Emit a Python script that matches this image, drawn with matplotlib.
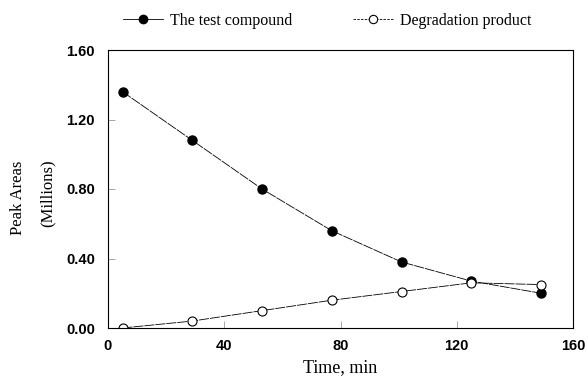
import matplotlib
matplotlib.use("Agg")
import matplotlib.pyplot as plt
from matplotlib.lines import Line2D

# data
time_min = [5, 29, 53, 77, 101, 125, 149]
test_compound = [1.36, 1.08, 0.80, 0.56, 0.38, 0.27, 0.20]
degradation = [0.00, 0.04, 0.10, 0.16, 0.21, 0.26, 0.25]
x_ticks = [0, 40, 80, 120, 160]
y_ticks = [0.0, 0.4, 0.8, 1.2, 1.6]

serif = "Liberation Serif"
sans = "Liberation Sans"

fig = plt.figure(figsize=(5.86, 3.77), dpi=100)
ax = fig.add_axes([108 / 586, 1 - 328 / 377, 465 / 586, 278 / 377])

ax.plot(time_min, test_compound, color="black", lw=0.6, dashes=(12, 1.2),
        marker="o", ms=6.5, mfc="black", mec="black")
ax.plot(time_min, degradation, color="black", lw=0.6, dashes=(12, 1.2),
        marker="o", ms=6.5, mfc="white", mec="black", mew=0.8)

ax.set_xlim(0, 160)
ax.set_ylim(0, 1.6)
ax.set_xticks(x_ticks)
ax.set_yticks(y_ticks)
ax.set_xticklabels([str(v) for v in x_ticks], fontfamily=sans,
                   fontweight="bold", fontsize=10.5)
ax.set_yticklabels(["%.2f" % v for v in y_ticks], fontfamily=sans,
                   fontweight="bold", fontsize=10.5)
ax.tick_params(direction="in", length=5, width=0.6, color="#999999")
ax.tick_params(axis="y", pad=9.5)
ax.tick_params(axis="x", pad=8)
for s in ax.spines.values():
    s.set_linewidth(0.8)

ax.set_xlabel("Time, min", fontfamily=serif, fontsize=13, labelpad=4)
fig.text(18 / 586, 1 - 198 / 377, "Peak Areas", rotation=90, ha="center",
         va="center", fontfamily=serif, fontsize=12)
fig.text(48 / 586, 1 - 193 / 377, "(Millions)", rotation=90, ha="center",
         va="center", fontfamily=serif, fontsize=12)

handles = [
    Line2D([], [], color="black", lw=0.6, marker="o",
           ms=6, mfc="black", mec="black"),
    Line2D([], [], color="black", lw=0.6, dashes=(3, 1.5), marker="o",
           ms=6, mfc="white", mec="black", mew=0.8),
]
fig.legend(handles, ["The test compound", "Degradation product"],
           loc="center left", bbox_to_anchor=(123 / 586, 1 - 21 / 377),
           ncol=2, frameon=False, prop={"family": serif, "size": 11.5},
           borderpad=0, borderaxespad=0, handlelength=2.5,
           columnspacing=3.8, handletextpad=0.45)

fig.savefig("out.png", dpi=100)
